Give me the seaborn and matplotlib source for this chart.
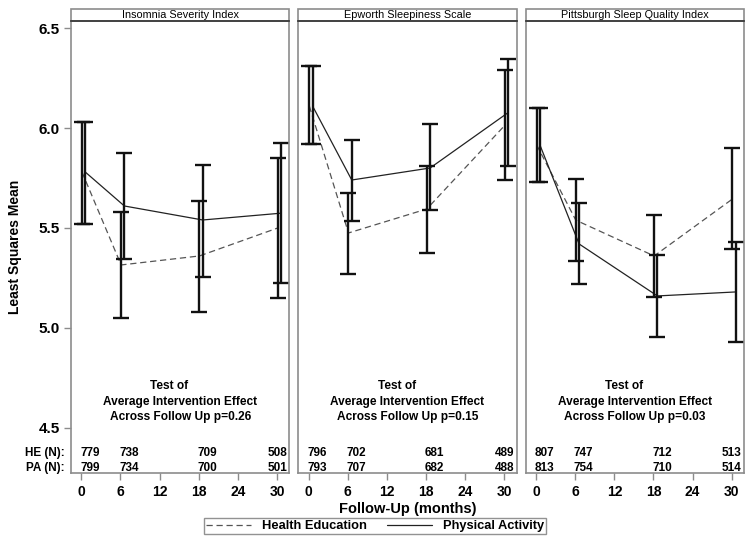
import matplotlib
matplotlib.use("Agg")
import matplotlib.pyplot as plt
from matplotlib.lines import Line2D
from matplotlib.patches import Rectangle
import pandas as pd
import seaborn as sns

months = [0, 6, 18, 30]
scales = ["Insomnia Severity Index", "Epworth Sleepiness Scale", "Pittsburgh Sleep Quality Index"]
p_values = ["0.26", "0.15", "0.03"]

# least squares means with 95% CI, Health Education (HE) arm
isi_he_mean = [5.78, 5.315, 5.36, 5.50]
isi_he_lo = [5.52, 5.048, 5.082, 5.152]
isi_he_hi = [6.03, 5.58, 5.637, 5.848]
ess_he_mean = [6.11, 5.475, 5.595, 6.015]
ess_he_lo = [5.92, 5.27, 5.377, 5.74]
ess_he_hi = [6.31, 5.677, 5.81, 6.29]
psqi_he_mean = [5.915, 5.539, 5.36, 5.645]
psqi_he_lo = [5.73, 5.335, 5.157, 5.395]
psqi_he_hi = [6.098, 5.743, 5.565, 5.898]

# Physical Activity (PA) arm
isi_pa_mean = [5.78, 5.61, 5.54, 5.574]
isi_pa_lo = [5.52, 5.345, 5.257, 5.223]
isi_pa_hi = [6.03, 5.877, 5.817, 5.923]
ess_pa_mean = [6.11, 5.74, 5.80, 6.078]
ess_pa_lo = [5.92, 5.537, 5.588, 5.81]
ess_pa_hi = [6.31, 5.942, 6.018, 6.345]
psqi_pa_mean = [5.915, 5.42, 5.16, 5.18]
psqi_pa_lo = [5.73, 5.218, 4.955, 4.928]
psqi_pa_hi = [6.098, 5.625, 5.365, 5.432]

# sample sizes at each visit
isi_he_n = [779, 738, 709, 508]
isi_pa_n = [799, 734, 700, 501]
ess_he_n = [796, 702, 681, 489]
ess_pa_n = [793, 707, 682, 488]
psqi_he_n = [807, 747, 712, 513]
psqi_pa_n = [813, 754, 710, 514]

he_series = [(isi_he_mean, isi_he_lo, isi_he_hi, isi_he_n),
             (ess_he_mean, ess_he_lo, ess_he_hi, ess_he_n),
             (psqi_he_mean, psqi_he_lo, psqi_he_hi, psqi_he_n)]
pa_series = [(isi_pa_mean, isi_pa_lo, isi_pa_hi, isi_pa_n),
             (ess_pa_mean, ess_pa_lo, ess_pa_hi, ess_pa_n),
             (psqi_pa_mean, psqi_pa_lo, psqi_pa_hi, psqi_pa_n)]

rows = []
for scale, he, pa in zip(scales, he_series, pa_series):
    for arm, series, shift in [("HE", he, 0.1), ("PA", pa, 0.6)]:
        for i, t in enumerate(months):
            rows.append({"scale": scale, "arm": arm, "month": t, "xpos": t + shift,
                         "mean": series[0][i], "lo": series[1][i], "hi": series[2][i],
                         "n": series[3][i]})
df = pd.DataFrame(rows)

sns.set_style("white")
plt.rcParams["font.family"] = ["Liberation Sans", "DejaVu Sans"]
plt.rcParams["text.color"] = "black"
plt.rcParams["axes.labelcolor"] = "black"
plt.rcParams["xtick.labelcolor"] = "black"
plt.rcParams["ytick.labelcolor"] = "black"

EDGE = "#8c8c8c"
fig, axes = plt.subplots(1, 3, figsize=(7.54, 5.41), dpi=100, sharey=True)
fig.subplots_adjust(left=0.094, right=0.987, bottom=0.126, top=0.961, wspace=0.04)

for k, (ax, scale) in enumerate(zip(axes, scales)):
    sub = df[df["scale"] == scale]
    sns.lineplot(data=sub, x="xpos", y="mean", hue="arm", style="arm",
                 palette={"HE": "#555555", "PA": "#222222"},
                 dashes={"HE": (5, 3), "PA": ""}, linewidth=0.9,
                 legend=False, errorbar=None, ax=ax)
    for arm, g in sub.groupby("arm"):
        ax.errorbar(g["xpos"], g["mean"], yerr=[g["mean"] - g["lo"], g["hi"] - g["mean"]],
                    fmt="none", ecolor="#111111", elinewidth=1.7, capsize=6, capthick=1.7)

    # N counts inside the panel
    for arm, y in [("HE", 4.375), ("PA", 4.30)]:
        g = sub[sub["arm"] == arm]
        for t, n in zip(g["month"], g["n"]):
            ax.text(min(t + 1.3, 30), y, str(n), ha="center", va="center",
                    fontsize=8.5, fontweight="bold")

    tr = ax.get_yaxis_transform()
    ax.text(0.45, 4.71, "Test of", transform=tr, ha="center", va="center",
            fontsize=8.6, fontweight="bold")
    ax.text(0.5, 4.63, "Average Intervention Effect", transform=tr, ha="center",
            va="center", fontsize=8.6, fontweight="bold")
    ax.text(0.5, 4.555, f"Across Follow Up p={p_values[k]}", transform=tr, ha="center",
            va="center", fontsize=8.6, fontweight="bold")

    # panel header band
    ax.add_patch(Rectangle((0, 1), 1, 0.0265, transform=ax.transAxes, clip_on=False,
                           facecolor="white", edgecolor=EDGE, linewidth=1.2))
    ax.text(0.5, 1.0135, scale, transform=ax.transAxes, ha="center", va="center", fontsize=7.8)

    ax.set_xlim(-1.6, 31.9)
    ax.set_ylim(4.275, 6.535)
    ax.set_xticks([0, 6, 12, 18, 24, 30])
    ax.set_yticks([4.5, 5.0, 5.5, 6.0, 6.5])
    ax.set_yticklabels(["4.5", "5.0", "5.5", "6.0", "6.5"])
    ax.tick_params(axis="x", bottom=True, direction="out", length=5, width=1, color=EDGE,
                   labelsize=10, pad=4, labelcolor="black")
    ax.tick_params(axis="y", left=(k == 0), direction="out", length=5, width=1, color=EDGE,
                   labelsize=11, pad=3, labelcolor="black")
    for lab in ax.get_xticklabels() + ax.get_yticklabels():
        lab.set_fontweight("bold")
    for sp in ax.spines.values():
        sp.set_color(EDGE)
        sp.set_linewidth(1.2)
    ax.spines["top"].set_color("#333333")
    ax.set_xlabel("")
    ax.set_ylabel("")

axes[0].set_ylabel("Least Squares Mean", fontsize=10, fontweight="bold", labelpad=12,
                   color="black")
axes[0].text(-0.03, 4.375, "HE (N):", transform=axes[0].get_yaxis_transform(),
             ha="right", va="center", fontsize=8.5, fontweight="bold")
axes[0].text(-0.03, 4.30, "PA (N):", transform=axes[0].get_yaxis_transform(),
             ha="right", va="center", fontsize=8.5, fontweight="bold")

fig.text(408 / 754, 1 - 509 / 541, "Follow-Up (months)", ha="center", va="center",
         fontsize=10.5, fontweight="bold")

handles = [Line2D([], [], color="#555555", linestyle=(0, (5, 3)), linewidth=0.9),
           Line2D([], [], color="#222222", linewidth=0.9)]
leg = fig.legend(handles, ["Health Education", "Physical Activity"], loc="center",
                 bbox_to_anchor=(375 / 754, 1 - 526 / 541), ncol=2, frameon=True,
                 fancybox=False, edgecolor="#777777", fontsize=9.3, handlelength=3.5,
                 borderpad=0.15, columnspacing=1.6, handletextpad=0.8)
leg.get_frame().set_linewidth(1.0)
for txt in leg.get_texts():
    txt.set_fontweight("bold")
    txt.set_color("black")

fig.savefig("out.png", dpi=100)
